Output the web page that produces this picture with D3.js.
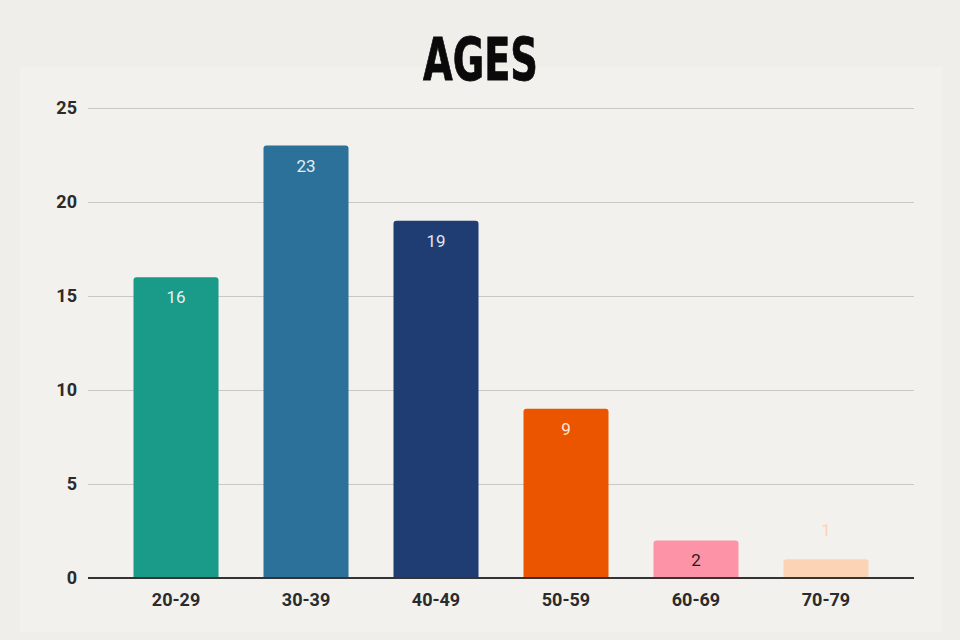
<!DOCTYPE html>
<html><head><meta charset="utf-8">
<script src="https://cdn.jsdelivr.net/npm/d3@7"></script>
<style>body{margin:0;background:#efeeea;}svg{display:block;}</style>
</head><body>
<svg id="c" width="960" height="640"></svg>
<script>
const categories = ["20-29","30-39","40-49","50-59","60-69","70-79"];
const values = [16,23,19,9,2,1];
const colors = ["#1a9a88","#2c7199","#1f3d73","#eb5500","#fd93a6","#fdd3b5"];
const labelColors = ["#e6f2ef","#e3edf3","#e1e6ee","#fde6d8","#2a1a1e","#fdd3b5"];
const yTicks = [0,5,10,15,20,25];
const title = "AGES";

const svg = d3.select("#c");
svg.append("rect").attr("x",20).attr("y",67).attr("width",922).attr("height",565).attr("fill","#f2f1ed");

const x = d3.scaleBand().domain(categories).range([88,914]).paddingInner(0.346).paddingOuter(0.35);
const y = d3.scaleLinear().domain([0,25]).range([578,108]);

svg.append("text").attr("x",480.5).attr("y",80).attr("text-anchor","middle")
  .attr("font-family","'DejaVu Sans Condensed','DejaVu Sans',sans-serif").attr("font-weight","bold")
  .attr("font-size",58).attr("textLength",115).attr("lengthAdjust","spacingAndGlyphs")
  .attr("fill","#0a0a0a").attr("stroke","#0a0a0a").attr("stroke-width",0.8).text(title);

const ya = svg.append("g").attr("transform","translate(88,0)")
  .call(d3.axisLeft(y).tickValues(yTicks).tickSize(-826).tickPadding(11));
ya.select(".domain").remove();
ya.selectAll(".tick line").attr("stroke","#c8c8c6").attr("stroke-width",1.2);
ya.selectAll(".tick text").attr("font-family","Roboto,'Noto Sans',sans-serif").attr("font-weight","bold")
  .attr("font-size",18).attr("fill","#2b2b2b");

const r = 3;
svg.append("g").selectAll("path").data(values).join("path")
  .attr("fill",(d,i)=>colors[i])
  .attr("d",(d,i)=>{
    const x0 = x(categories[i]), w = x.bandwidth(), y0 = y(d), y1 = y(0);
    return `M${x0},${y1}V${y0+r}Q${x0},${y0} ${x0+r},${y0}H${x0+w-r}Q${x0+w},${y0} ${x0+w},${y0+r}V${y1}Z`;
  });

svg.append("g").selectAll("text").data(values).join("text")
  .attr("x",(d,i)=>x(categories[i])+x.bandwidth()/2)
  .attr("y",(d,i)=> (y(0)-y(d) > 30) ? y(d)+26 : y(d)-23)
  .attr("text-anchor","middle")
  .attr("font-family","Roboto,'Noto Sans',sans-serif").attr("font-size",17)
  .attr("fill",(d,i)=>labelColors[i]).text(d=>d);

const xa = svg.append("g").attr("transform","translate(0,578)")
  .call(d3.axisBottom(x).tickSize(0).tickPadding(15));
xa.select(".domain").attr("stroke","#333").attr("stroke-width",2).attr("d","M88,0H914");
xa.selectAll(".tick text").attr("font-family","Roboto,'Noto Sans',sans-serif").attr("font-weight","bold")
  .attr("font-size",18).attr("fill","#2b2b2b");
</script>
</body></html>
